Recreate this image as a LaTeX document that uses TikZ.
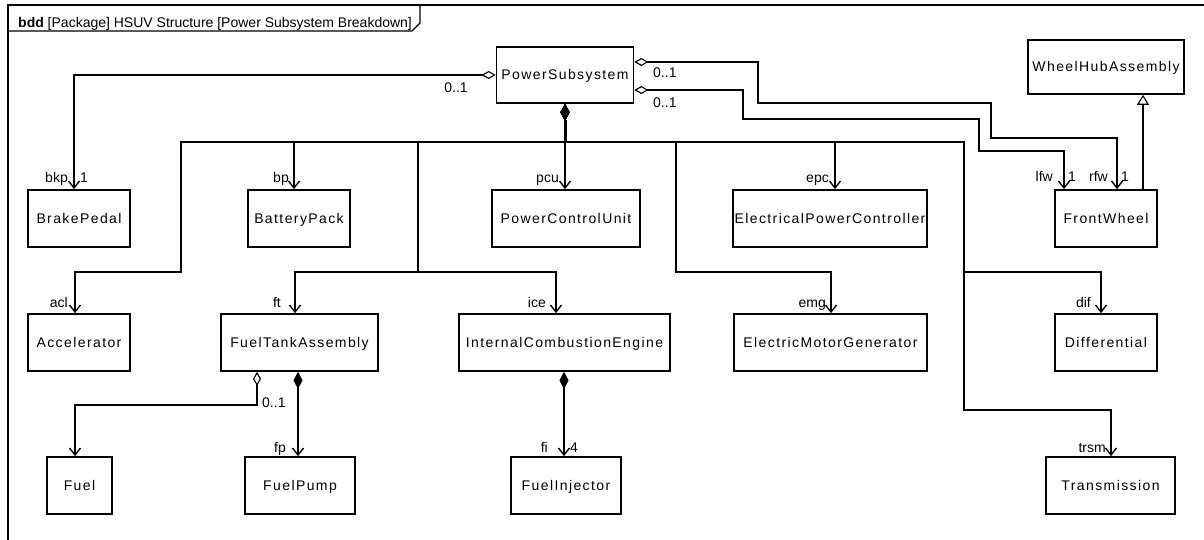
\documentclass[tikz,border=0pt]{standalone}
\usepackage{fontspec}
\setmainfont{Liberation Sans}
\newfontfamily\boxfont[LetterSpace=10]{Liberation Sans}
\usetikzlibrary{arrows.meta}
\begin{document}
\begin{tikzpicture}[x=1pt,y=-1pt,
  blk/.style={draw, line width=1.7pt, rectangle, inner sep=0pt, minimum height=57pt,
    text height=10pt, text depth=0pt, font=\boxfont\fontsize{14}{16}\selectfont},
  lbl/.style={inner sep=0pt, font=\fontsize{14}{16}\selectfont},
  conn/.style={line width=1.4pt},
  shared/.style={line width=2pt},
  agg/.style={conn, arrows={Diamond[open,length=14pt,width=8pt,line width=1.1pt]-Straight Barb[length=7pt,width=11pt]}},
  comp/.style={conn, arrows={Diamond[length=17pt,width=9pt,line width=0.5pt]-Straight Barb[length=7pt,width=11pt]}},
  gen/.style={conn, arrows={-Triangle[open,length=10pt,width=12pt,line width=1.1pt]}},
  frm/.style={line width=1.4pt}
]
\useasboundingbox (0,0) rectangle (1204,540);
% frame
\draw[frm] (1204,5) -- (8,5) -- (8,540);
\draw[frm] (8,31) -- (412,31) -- (420,23) -- (420,5);
\node[lbl, anchor=base west] (title) at (18,28) {\textbf{bdd} [Package] HSUV Structure [Power Subsystem Breakdown]};

% blocks
\node[blk, minimum width=137pt, minimum height=56pt] (ps) at (565,75) {PowerSubsystem};
\node[blk, minimum width=156pt, minimum height=54pt] (wha) at (1106,67) {WheelHubAssembly};

\node[blk, minimum width=102pt] (bkp) at (79,218.5) {BrakePedal};
\node[blk, minimum width=102pt] (bp) at (299,218.5) {BatteryPack};
\node[blk, minimum width=148pt] (pcu) at (566,218.5) {PowerControlUnit};
\node[blk, minimum width=194pt] (epc) at (830,218.5) {ElectricalPowerController};
\node[blk, minimum width=102pt] (fw) at (1106,218.5) {FrontWheel};

\node[blk, minimum width=102pt] (acl) at (79,342.5) {Accelerator};
\node[blk, minimum width=157pt] (ft) at (299.5,342.5) {FuelTankAssembly};
\node[blk, minimum width=211pt] (ice) at (564.5,342.5) {InternalCombustionEngine};
\node[blk, minimum width=193pt] (emg) at (830.5,342.5) {ElectricMotorGenerator};
\node[blk, minimum width=102pt] (dif) at (1106,342.5) {Differential};

\node[blk, minimum width=65pt] (fuel) at (79.5,485.5) {Fuel};
\node[blk, minimum width=110pt] (fp) at (300,485.5) {FuelPump};
\node[blk, minimum width=110pt] (fi) at (566,485.5) {FuelInjector};
\node[blk, minimum width=129pt] (trsm) at (1110.5,485.5) {Transmission};

% aggregations from PowerSubsystem
\draw[agg] (ps.west) -| ([xshift=-5pt]bkp.north);
\node[lbl, anchor=base] (m1) at (456,93) {0..1};
\node[lbl, anchor=base east] (r1) at (68,183) {bkp};
\node[lbl, anchor=base west] (n1) at (80,183) {1};

\draw[agg] ([yshift=13pt]ps.east) -- (758,62) -- (758,103) -- (991,103) -- (991,138) -| ([xshift=11pt]fw.north);
\draw[agg] ([yshift=-15pt]ps.east) -- (743,90) -- (743,119) -- (979,119) -- (979,151) -| ([xshift=-42pt]fw.north);
\node[lbl, anchor=base west] (m2) at (653,78) {0..1};
\node[lbl, anchor=base west] (m3) at (653,108) {0..1};
\node[lbl, anchor=base east] (r2) at (1053,182) {lfw};
\node[lbl, anchor=base west] (n2) at (1068,182) {1};
\node[lbl, anchor=base east] (r3) at (1108,182) {rfw};
\node[lbl, anchor=base west] (n3) at (1121,182) {1};

% generalization
\draw[gen] ([xshift=37pt]fw.north) -- ([xshift=37pt]wha.south);

% compositions from PowerSubsystem
\coordinate (bus) at (565,142);
\coordinate (busL) at (181,142);
\coordinate (busR) at (964,142);
\draw[comp] (ps.south) -- (bus) -| ([xshift=-5pt]bp.north);
\draw[comp] (ps.south) -- (bus) -- (pcu.north -| bus);
\draw[comp] (ps.south) -- (bus) -| ([xshift=5pt]epc.north);
\draw[comp] (ps.south) -- (bus) -| (181,272) -| ([xshift=-4pt]acl.north);
\draw[comp] (ps.south) -- (bus) -| (418,272) -| ([xshift=-4.5pt]ft.north);
\draw[comp] (ps.south) -- (bus) -| (418,272) -| ([xshift=-8.5pt]ice.north);
\draw[comp] (ps.south) -- (bus) -| (676,272) -| ([xshift=0.5pt]emg.north);
\draw[comp] (ps.south) -- (bus) -| (964,272) -| ([xshift=-5pt]dif.north);
\draw[comp] (ps.south) -- (bus) -| (964,410) -| ([xshift=0.5pt]trsm.north);
% shared (overlapping) segments of the composition tree
\draw[shared] (busL) -- (busR);
\draw[shared] (418,142) -- (418,272);
\draw[shared] (676,142) -- (676,272);
\draw[shared] (busR) -- (964,272);
\draw[line width=3pt] ([yshift=-16pt]ps.south) -- (bus);

\node[lbl, anchor=base east] (rbp) at (289,183) {bp};
\node[lbl, anchor=base east] (rpcu) at (559,183) {pcu};
\node[lbl, anchor=base east] (repc) at (829,183) {epc};
\node[lbl, anchor=base east] (racl) at (68,307) {acl};
\node[lbl, anchor=base east] (rft) at (281,307) {ft};
\node[lbl, anchor=base east] (rice) at (546,307) {ice};
\node[lbl, anchor=base east] (remg) at (826,307) {emg};
\node[lbl, anchor=base east] (rdif) at (1091,307) {dif};
\node[lbl, anchor=base east] (rtrsm) at (1106,452) {trsm};

% fuel tank assembly parts
\draw[agg] ([xshift=-42.5pt]ft.south) -- (257,405) -| ([xshift=-4.5pt]fuel.north);
\node[lbl, anchor=base west] (m4) at (262,407) {0..1};
\draw[comp] ([xshift=-1.5pt]ft.south) -- ([xshift=-2pt]fp.north);
\node[lbl, anchor=base east] (rfp) at (286,452) {fp};

% engine parts
\draw[comp] ([xshift=-0.5pt]ice.south) -- ([xshift=-2pt]fi.north);
\node[lbl, anchor=base east] (rfi) at (548,452) {fi};
\node[lbl, anchor=base west] (n4) at (570,452) {4};
\end{tikzpicture}
\end{document}
